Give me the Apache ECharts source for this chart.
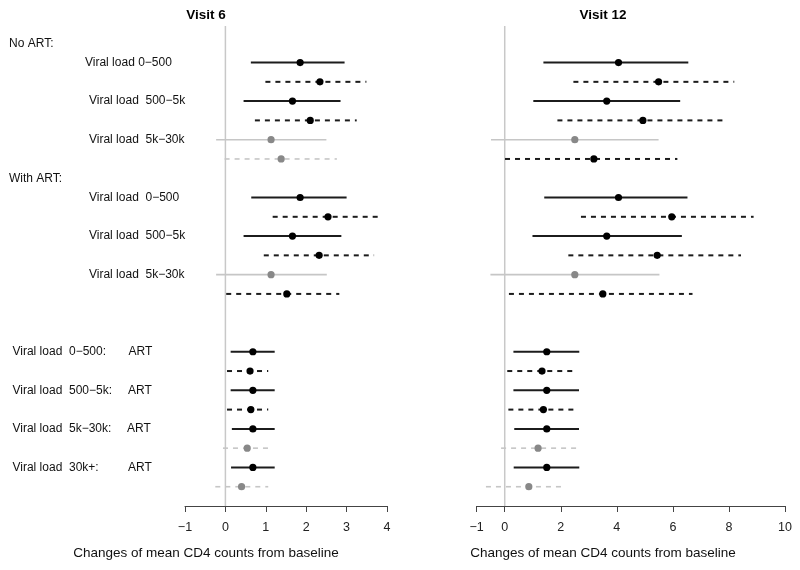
<!DOCTYPE html>
<html>
<head>
<meta charset="utf-8">
<script src="https://cdn.jsdelivr.net/npm/echarts@6/dist/echarts.min.js"></script>
<style>
html,body{margin:0;padding:0;background:#fff;}
#chart{width:800px;height:570px;}
</style>
</head>
<body>
<div id="chart"></div>
<script>
// ---- data ----
const panelTitles = ['Visit 6', 'Visit 12'];
const axisTitle = 'Changes of mean CD4 counts from baseline';
const v6Ticks = [-1, 0, 1, 2, 3, 4];
const v12Ticks = [-1, 0, 2, 4, 6, 8, 10];

// row slot of each estimate (0 = top)
const rowIndex = [1, 2, 3, 4, 5, 6, 8, 9, 10, 11, 12, 13, 16, 17, 18, 19, 20, 21, 22, 23];
// estimate type: 'A' (solid) or 'B' (dashed)
const estType = ['A','B','A','B','A','B','A','B','A','B','A','B','A','B','A','B','A','B','A','B'];

const v6Est = [1.85, 2.34, 1.66, 2.10, 1.13, 1.38, 1.85, 2.54, 1.66, 2.32, 1.13, 1.52, 0.68, 0.61, 0.68, 0.63, 0.68, 0.54, 0.68, 0.40];
const v6Lo  = [0.63, 0.99, 0.45, 0.73, -0.23, -0.02, 0.64, 1.17, 0.45, 0.95, -0.23, 0.02, 0.13, 0.04, 0.13, 0.04, 0.16, -0.06, 0.14, -0.25];
const v6Hi  = [2.95, 3.49, 2.85, 3.25, 2.50, 2.76, 3.00, 3.89, 2.87, 3.68, 2.51, 2.82, 1.22, 1.06, 1.22, 1.06, 1.22, 1.15, 1.22, 1.06];
const v6Sig = [1, 1, 1, 1, 0, 0, 1, 1, 1, 1, 0, 1, 1, 1, 1, 1, 1, 0, 1, 0];

const v12Est = [4.06, 5.49, 3.64, 4.93, 2.50, 3.18, 4.06, 5.96, 3.64, 5.44, 2.50, 3.50, 1.50, 1.33, 1.50, 1.38, 1.50, 1.19, 1.50, 0.86];
const v12Lo  = [1.38, 2.45, 1.02, 1.88, -0.49, 0.01, 1.41, 2.72, 0.99, 2.27, -0.51, 0.15, 0.31, 0.09, 0.31, 0.13, 0.34, -0.13, 0.32, -0.67];
const v12Hi  = [6.55, 8.19, 6.26, 7.89, 5.49, 6.16, 6.52, 8.88, 6.32, 8.43, 5.52, 6.70, 2.66, 2.43, 2.65, 2.48, 2.65, 2.57, 2.66, 2.13];
const v12Sig = [1, 1, 1, 1, 0, 1, 1, 1, 1, 1, 0, 1, 1, 1, 1, 1, 1, 0, 1, 0];

// row labels: slot, text, second text
const labelRows  = [0, 1, 3, 5, 7, 8, 10, 12, 16, 18, 20, 22];
const labelTexts = ['No ART:', 'Viral load 0\u2212500', 'Viral load  500\u22125k', 'Viral load  5k\u221230k',
                    'With ART:', 'Viral load  0\u2212500', 'Viral load  500\u22125k', 'Viral load  5k\u221230k',
                    'Viral load  0\u2212500:', 'Viral load  500\u22125k:', 'Viral load  5k\u221230k:', 'Viral load  30k+:'];
const labelSecond = ['', '', '', '', '', '', '', '', 'ART', 'ART', 'ART', 'ART'];

// ---- chart ----
const FONT = '"Liberation Sans", Arial, Helvetica, sans-serif';
const labelX = [9, 85, 89, 89, 9, 89, 89, 89, 12.5, 12.5, 12.5, 12.5];
const secondX = [0, 0, 0, 0, 0, 0, 0, 0, 128.5, 128, 127, 128];

function fmt(v) { return v < 0 ? '\u2212' + Math.abs(v) : String(v); }

function ciSeries(idx, est, lo, hi, sig) {
  const data = rowIndex.map((r, i) => [r, lo[i], est[i], hi[i], estType[i] === 'B' ? 1 : 0, sig[i]]);
  return {
    type: 'custom', xAxisIndex: idx, yAxisIndex: idx, z: 5,
    data: data,
    encode: { x: [1, 2, 3], y: 0 },
    renderItem: function (params, api) {
      const y = api.value(0), l = api.value(1), e = api.value(2), h = api.value(3);
      const dashed = api.value(4) === 1, s = api.value(5) === 1;
      const p1 = api.coord([l, y]), p2 = api.coord([h, y]), pc = api.coord([e, y]);
      return {
        type: 'group',
        children: [
          { type: 'line', shape: { x1: p1[0], y1: p1[1], x2: p2[0], y2: p2[1] },
            style: { stroke: s ? '#1c1c1c' : '#c6c6c6', lineWidth: s ? 2 : 1.6, lineDash: dashed ? [5, 5] : null } },
          { type: 'circle', shape: { cx: pc[0], cy: pc[1], r: 3.6 },
            style: { fill: s ? '#000' : '#888' } }
        ]
      };
    }
  };
}

function zeroLine(idx) {
  return {
    type: 'line', xAxisIndex: idx, yAxisIndex: idx, z: 1,
    data: [[0, -0.9], [0, 24]], symbol: 'none', silent: true,
    lineStyle: { color: '#c8c8c8', width: 1.5 }
  };
}

const labelSeries = {
  type: 'custom', xAxisIndex: 0, yAxisIndex: 0, z: 6,
  data: labelRows.map((r, i) => [0, r, i]),
  encode: { x: 0, y: 1 },
  renderItem: function (params, api) {
    const r = api.value(1), i = api.value(2);
    const py = api.coord([0, r])[1];
    const children = [{ type: 'text', x: labelX[i], y: py,
      style: { text: labelTexts[i], fill: '#111', font: '12px ' + FONT, textVerticalAlign: 'middle', verticalAlign: 'middle' } }];
    if (labelSecond[i]) {
      children.push({ type: 'text', x: secondX[i], y: py,
        style: { text: labelSecond[i], fill: '#111', font: '12px ' + FONT, verticalAlign: 'middle', textVerticalAlign: 'middle' } });
    }
    return { type: 'group', children: children };
  }
};

function xAxis(idx, min, max, ticks) {
  return {
    type: 'value', gridIndex: idx, min: min, max: max,
    interval: 1,
    splitLine: { show: false },
    axisLine: { show: true, onZero: false, lineStyle: { color: '#444', width: 1 } },
    axisTick: { show: true, length: 6, lineStyle: { color: '#444', width: 1 },
      customValues: ticks },
    axisLabel: { color: '#222', fontSize: 12.5, fontFamily: FONT, margin: 15,
      customValues: ticks, formatter: fmt }
  };
}

const chart = echarts.init(document.getElementById('chart'), null, { renderer: 'canvas' });
chart.setOption({
  animation: false,
  backgroundColor: '#fff',
  grid: [
    { left: 185, right: 413, top: 24, bottom: 64 },
    { left: 476.7, right: 15, top: 24, bottom: 64 }
  ],
  xAxis: [xAxis(0, -1, 4, v6Ticks), xAxis(1, -1, 10, v12Ticks)],
  yAxis: [
    { type: 'value', gridIndex: 0, min: -1, max: 24, inverse: true, show: false },
    { type: 'value', gridIndex: 1, min: -1, max: 24, inverse: true, show: false }
  ],
  graphic: [
    { type: 'text', x: 206, y: 15, style: { text: panelTitles[0], font: 'bold 13.5px ' + FONT, fill: '#000', align: 'center', verticalAlign: 'middle' } },
    { type: 'text', x: 603, y: 15, style: { text: panelTitles[1], font: 'bold 13.5px ' + FONT, fill: '#000', align: 'center', verticalAlign: 'middle' } },
    { type: 'text', x: 206, y: 553, style: { text: axisTitle, font: '13.5px ' + FONT, fill: '#111', align: 'center', verticalAlign: 'middle' } },
    { type: 'text', x: 603, y: 553, style: { text: axisTitle, font: '13.5px ' + FONT, fill: '#111', align: 'center', verticalAlign: 'middle' } }
  ],
  series: [
    zeroLine(0), zeroLine(1),
    ciSeries(0, v6Est, v6Lo, v6Hi, v6Sig),
    ciSeries(1, v12Est, v12Lo, v12Hi, v12Sig),
    labelSeries
  ]
});
</script>
</body>
</html>
